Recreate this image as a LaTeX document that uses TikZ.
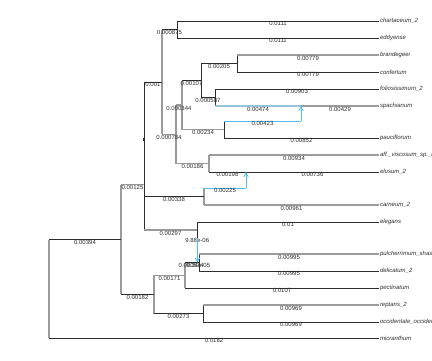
\documentclass[tikz,border=0pt]{standalone}
\usepackage{fontspec}
\setsansfont{Liberation Sans}
\usetikzlibrary{arrows.meta}
\definecolor{edgedark}{RGB}{45,45,45}
\definecolor{edgegray}{RGB}{155,155,155}
\definecolor{hybblue}{RGB}{80,190,245}
\definecolor{hybpale}{RGB}{150,196,218}

\begin{document}
\begin{tikzpicture}[x=1pt, y=-1pt, font=\sffamily\fontsize{6}{7}\selectfont,
  dk/.style={draw=edgedark, line width=0.7pt},
  gr/.style={draw=edgegray, line width=1.5pt},
  hy/.style={draw=hybblue, line width=0.8pt},
  hp/.style={draw=hybpale, line width=1.5pt},
  bl/.style={below, inner sep=0.4pt, text=edgedark},
  tip/.style={anchor=west, inner sep=0.8pt, text=edgedark,
              font=\sffamily\itshape\fontsize{6}{7}\selectfont}]
  \useasboundingbox (0,0) rectangle (432,360);

  % tips
  \path node[tip] (chart) at (379,21)  {chartaceum\_2}
        node[tip] (eddy)  at (379,38)  {eddyense}
        node[tip] (brand) at (379,55)  {brandegeei}
        node[tip] (conf)  at (379,72)  {confertum}
        node[tip] (folio) at (379,89)  {foliosissimum\_2}
        node[tip] (spach) at (379,106) {spachianum}
        node[tip] (pauci) at (379,138) {pauciflorum}
        node[tip] (aff)   at (379,155) {aff.\_viscosum\_sp.\_nov}
        node[tip] (elus)  at (379,172) {elusum\_2}
        node[tip] (carn)  at (379,205) {carneum\_2}
        node[tip] (eleg)  at (379,222) {elegans}
        node[tip] (pulch) at (379,254) {pulcherrimum\_shastense}
        node[tip] (deli)  at (379,271) {delicatum\_2}
        node[tip] (pect)  at (379,288) {pectinatum}
        node[tip] (rept)  at (379,305) {reptans\_2}
        node[tip] (occ)   at (379,322) {occidentale\_occidentale}
        node[tip] (micr)  at (379,338) {micranthum};

  % internal nodes
  \path coordinate (root) at (49,288.75)
        coordinate (na)  at (121,239.5)
        coordinate (nb)  at (144,184.6)
        coordinate (nb0) at (144,139.2)
        coordinate (np)  at (162,81.9)
        coordinate (n1)  at (177,29.5)
        coordinate (nq)  at (176,134.25)
        coordinate (nr)  at (182,105)
        coordinate (ns)  at (201,80.5)
        coordinate (nt)  at (237,63.5)
        coordinate (nu)  at (215,97.5)
        coordinate (nv)  at (224,129.5)
        coordinate (nw)  at (209,163.5)
        coordinate (nx)  at (204,196.5)
        coordinate (ny)  at (197,230)
        coordinate (nc)  at (154,294.4)
        coordinate (nd)  at (185,275.25)
        coordinate (ne)  at (199,262.5)
        coordinate (nf)  at (203,313.5)
        coordinate (h1)  at (301,106)
        coordinate (v1)  at (301,121)
        coordinate (h2)  at (246,172)
        coordinate (x1)  at (246,188)
        coordinate (h3)  at (197.5,262.5)
        coordinate (y1)  at (197.5,238);

  % verticals
  \draw[gr] (root |- na) -- (root |- micr.west);
  \draw[gr] (na |- nb) -- (na |- nc);
  \draw[dk] (nb |- nb0) -- (nb |- ny);
  \draw[dk] (nb0 |- np) -- (nb0 |- nx);
  \draw[gr] (np |- n1) -- (np |- nq);
  \draw[dk] (n1 |- chart.west) -- (n1 |- eddy.west);
  \draw[gr] (nq |- nr) -- (nq |- nw);
  \draw[gr] (nr |- ns) -- (nr |- nv);
  \draw[dk] (ns |- nt) -- (ns |- nu);
  \draw[dk] (nt |- brand.west) -- (nt |- conf.west);
  \draw[dk] (nu |- folio.west) -- (nu |- h1);
  \draw[dk] (nv |- v1) -- (nv |- pauci.west);
  \draw[gr] (nw |- aff.west) -- (nw |- h2);
  \draw[gr] (nx |- x1) -- (nx |- carn.west);
  \draw[dk] (ny |- eleg.west) -- (ny |- y1);
  \draw[gr] (nc |- nd) -- (nc |- nf);
  \draw[gr] (nd |- h3) -- (nd |- pect.west);
  \draw[dk] (ne |- pulch.west) -- (ne |- deli.west);
  \draw[dk] (nf |- rept.west) -- (nf |- occ.west);
  \node[fill=edgedark, inner sep=0, minimum width=2.2pt, minimum height=3pt] (stub) at (nb0) {};

  % horizontals
  \draw[dk] (root |- na) -- (na) node[bl, midway] {0.00394};
  \draw[dk] (root |- micr.west) -- (micr.west) node[bl, midway] {0.0182};
  \draw[gr] (na |- nb) -- (nb) node[bl, midway] {0.00125};
  \draw[dk] (na |- nc) -- (nc) node[bl, midway] {0.00182};
  \draw[dk] (nb0 |- np) -- (np) node[bl, midway] {0.001};
  \draw[dk] (nb0 |- nx) -- (nx) node[bl, midway] {0.00338};
  \draw[gr] (nb |- ny) -- (ny) node[bl, midway] {0.00297};
  \draw[dk] (np |- n1) -- (n1) node[bl, midway] {0.000875};
  \draw[gr] (np |- nq) -- (nq) node[bl, midway] {0.000784};
  \draw[dk] (n1 |- chart.west) -- (chart.west) node[bl, midway] {0.0111};
  \draw[dk] (n1 |- eddy.west) -- (eddy.west) node[bl, midway] {0.0111};
  \draw[gr] (nq |- nr) -- (nr) node[bl, midway] {0.000344};
  \draw[gr] (nq |- nw) -- (nw) node[bl, midway] {0.00186};
  \draw[dk] (nr |- ns) -- (ns) node[bl, midway] {0.00107};
  \draw[gr] (nr |- nv) -- (nv) node[bl, midway] {0.00234};
  \draw[dk] (ns |- nt) -- (nt) node[bl, midway] {0.00205};
  \draw[dk] (ns |- nu) -- (nu) node[bl, midway] {0.000587};
  \draw[gr] (nt |- brand.west) -- (brand.west) node[bl, midway] {0.00779};
  \draw[dk] (nt |- conf.west) -- (conf.west) node[bl, midway] {0.00779};
  \draw[dk] (nu |- folio.west) -- (folio.west) node[bl, midway] {0.00903};
  \draw[hp] (nu |- h1) -- (h1) node[bl, midway] {0.00474};
  \draw[gr] (h1) -- (spach.west) node[bl, midway] {0.00429};
  \draw[hy] (nv |- v1) -- (v1) node[bl, midway] {0.00423};
  \draw[dk] (nv |- pauci.west) -- (pauci.west) node[bl, midway] {0.00852};
  \draw[gr] (nw |- aff.west) -- (aff.west) node[bl, midway] {0.00934};
  \draw[dk] (nw |- h2) -- (h2) node[bl, midway] {0.00198};
  \draw[dk] (h2) -- (elus.west) node[bl, midway] {0.00736};
  \draw[hy] (nx |- x1) -- (x1) node[bl, midway] {0.00225};
  \draw[gr] (nx |- carn.west) -- (carn.west) node[bl, midway] {0.00961};
  \draw[dk] (ny |- eleg.west) -- (eleg.west) node[bl, midway] {0.01};
  \draw[hy] (ny |- y1) -- (y1) node[bl, midway] {9.88e-06};
  \draw[gr] (nc |- nd) -- (nd) node[bl, midway] {0.00171};
  \draw[dk] (nc |- nf) -- (nf) node[bl, midway] {0.00273};
  \draw[dk] (nd |- h3) -- (h3) node[bl, midway] {0.000534};
  \draw[dk] (h3) -- (ne) node[bl, midway] {9.34e-05};
  \draw[dk] (nd |- pect.west) -- (pect.west) node[bl, midway] {0.0107};
  \draw[gr] (ne |- pulch.west) -- (pulch.west) node[bl, midway] {0.00995};
  \draw[dk] (ne |- deli.west) -- (deli.west) node[bl, midway] {0.00995};
  \draw[gr] (nf |- rept.west) -- (rept.west) node[bl, midway] {0.00969};
  \draw[dk] (nf |- occ.west) -- (occ.west) node[bl, midway] {0.00969};

  % hybrid arrows
  \draw[hy, -{Straight Barb[length=4pt, width=4.5pt]}] (v1) -- (h1);
  \draw[hy, -{Straight Barb[length=4pt, width=4.5pt]}] (x1) -- (h2);
  \draw[hy, -{Straight Barb[length=4pt, width=4.5pt]}] (y1) -- (h3);
\end{tikzpicture}
\end{document}
